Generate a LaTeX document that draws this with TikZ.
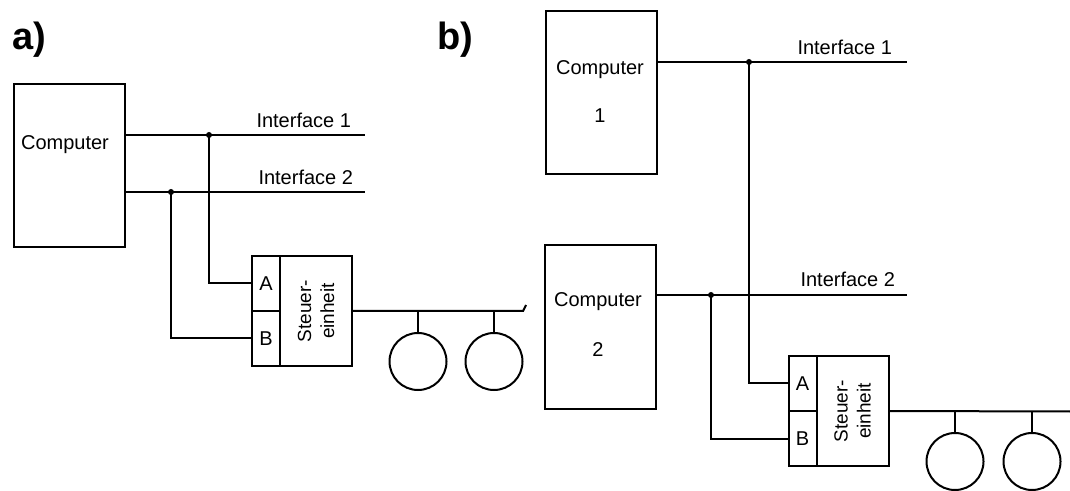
\documentclass[tikz,border=0pt]{standalone}
\usepackage{fontspec}
\setmainfont{Liberation Sans}
\usetikzlibrary{positioning}

\begin{document}
\begin{tikzpicture}[x=0.5pt,y=-0.5pt,line width=1pt,
  compbox/.style={draw,minimum width=55.5pt,minimum height=81.5pt,inner sep=0pt},
  cellbox/.style={draw,minimum width=14pt,minimum height=27.5pt,inner sep=0pt,outer sep=0pt,font=\fontsize{10}{12}\selectfont},
  ctrlbox/.style={draw,minimum width=36pt,minimum height=55pt,inner sep=0pt,outer sep=0pt},
  lamp/.style={draw,circle,minimum size=28.5pt,inner sep=0pt},
  lbl/.style={font=\fontsize{10}{12}\selectfont,inner sep=0pt},
  ctrltxt/.style={font=\fontsize{9.5}{11.5}\selectfont,inner sep=0pt,rotate=90,align=center},
  part/.style={font=\fontsize{19}{21}\selectfont\bfseries,inner sep=0pt,anchor=base west},
  dot/.style={circle,fill,inner sep=0pt,minimum size=3pt}]
\useasboundingbox (0,0) rectangle (1070,491);

% a) one computer, two interfaces
\node[part] (partA) at (11,50) {a)};
\node[compbox] (compA) at (69.5,166) {};
\node[lbl] (compAtxt) at (65,145) {Computer};
\coordinate (ifAone) at (365,135);
\coordinate (ifAtwo) at (365,192);
\draw (compA.east |- ifAone) -- (ifAone);
\draw (compA.east |- ifAtwo) -- (ifAtwo);
\node[lbl,anchor=base east] (ifAonetxt) at (352,128) {Interface 1};
\node[lbl,anchor=base east] (ifAtwotxt) at (354,185) {Interface 2};
\node[cellbox] (cellAa) at (266,283.5) {A};
\node[cellbox,below=0pt of cellAa] (cellAb) {B};
\node[ctrlbox,anchor=north west] (ctrlA) at (cellAa.north east) {};
\node[ctrltxt] (ctrlAtxt) at (ctrlA.center) {Steuer-\\einheit};
\coordinate (jAone) at (209,135);
\coordinate (jAtwo) at (171,192);
\draw (jAone) |- (cellAa.west);
\draw (jAtwo) |- (cellAb.west);
\node[dot] (dAone) at (jAone) {};
\node[dot] (dAtwo) at (jAtwo) {};
\coordinate (busAend) at (523,311);
\draw (ctrlA.east) -- (busAend) -- ++(3,-6);
\node[lamp,anchor=north] (lampAa) at (418,332) {};
\node[lamp,anchor=north] (lampAb) at (494,332) {};
\draw (lampAa.north) -- (lampAa.north |- busAend);
\draw (lampAb.north) -- (lampAb.north |- busAend);

% b) two computers, one interface each
\node[part] (partB) at (436,50) {b)};
\node[compbox] (compBa) at (601.5,93) {};
\node[lbl] (compBatxt) at (600,70) {Computer};
\node[lbl] (compBanum) at (600,116) {1};
\node[compbox] (compBb) at (600.5,327) {};
\node[lbl] (compBbtxt) at (598,302) {Computer};
\node[lbl] (compBbnum) at (598,350) {2};
\coordinate (ifBone) at (907,62);
\coordinate (ifBtwo) at (907,295);
\draw (compBa.east |- ifBone) -- (ifBone);
\draw (compBb.east |- ifBtwo) -- (ifBtwo);
\node[lbl,anchor=base east] (ifBonetxt) at (893,55) {Interface 1};
\node[lbl,anchor=base east] (ifBtwotxt) at (896,287) {Interface 2};
\node[cellbox] (cellBa) at (802.5,383.5) {A};
\node[cellbox,below=0pt of cellBa] (cellBb) {B};
\node[ctrlbox,anchor=north west] (ctrlB) at (cellBa.north east) {};
\node[ctrltxt] (ctrlBtxt) at (ctrlB.center) {Steuer-\\einheit};
\coordinate (jBone) at (749,62);
\coordinate (jBtwo) at (711,295);
\draw (jBone) |- (cellBa.west);
\draw (jBtwo) |- (cellBb.west);
\node[dot] (dBone) at (jBone) {};
\node[dot] (dBtwo) at (jBtwo) {};
\coordinate (busBend) at (1070,411.5);
\draw (ctrlB.east) -- (busBend);
\node[lamp,anchor=north] (lampBa) at (955,432) {};
\node[lamp,anchor=north] (lampBb) at (1032,432) {};
\draw (lampBa.north) -- (lampBa.north |- busBend);
\draw (lampBb.north) -- (lampBb.north |- busBend);
\end{tikzpicture}
\end{document}
